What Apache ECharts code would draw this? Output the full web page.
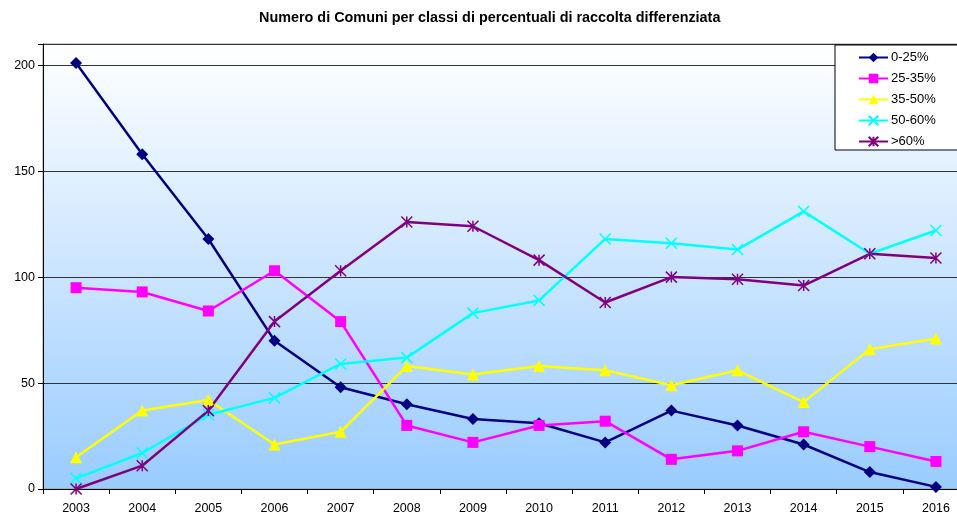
<!DOCTYPE html>
<html>
<head>
<meta charset="utf-8">
<script src="https://cdn.jsdelivr.net/npm/echarts@6/dist/echarts.min.js"></script>
<style>html,body{margin:0;padding:0;background:#fff;overflow:hidden}#c{width:980px;height:515px}</style>
</head>
<body>
<div id="c"></div>
<script>
var years = ['2003','2004','2005','2006','2007','2008','2009','2010','2011','2012','2013','2014','2015','2016'];
var seriesNames = ['0-25%','25-35%','35-50%','50-60%','>60%'];
var s0_25 = [201,158,118,70,48,40,33,31,22,37,30,21,8,1];
var s25_35 = [95,93,84,103,79,30,22,30,32,14,18,27,20,13];
var s35_50 = [15,37,42,21,27,58,54,58,56,49,56,41,66,71];
var s50_60 = [5,17,35,43,59,62,83,89,118,116,113,131,111,122];
var s60 = [0,11,37,79,103,126,124,108,88,100,99,96,111,109];
var yTicks = [0,50,100,150,200];

var FONT = 'Liberation Sans, Arial, sans-serif';
var chart = echarts.init(document.getElementById('c'), null, {renderer:'canvas'});
function mk(name, data, color, symbol, size, extra) {
  var s = {
    name: name, type: 'line', data: data, symbol: symbol, symbolSize: size,
    lineStyle: {color: color, width: 2.5},
    itemStyle: {color: color},
    showSymbol: true, animation: false, z: 3
  };
  if (extra) Object.assign(s.itemStyle, extra);
  return s;
}
var xPath = 'path://M0,0L10,10M10,0L0,10';
var starPath = 'path://M0,0L10,10M10,0L0,10M5,0L5,10';
chart.setOption({
  animation: false,
  title: {
    text: 'Numero di Comuni per classi di percentuali di raccolta differenziata',
    left: 254, top: 6,
    textStyle: {fontFamily: FONT, fontSize: 14.4, fontWeight: 'bold', color: '#000'}
  },
  legend: {
    orient: 'vertical', left: 835, top: 45,
    backgroundColor: '#fff', borderColor: '#000', borderWidth: 1,
    padding: [6, 30, 2, 23], itemGap: 8, itemWidth: 29, itemHeight: 12,
    textStyle: {fontFamily: FONT, fontSize: 13, color: '#000', padding: [0,0,0,-2]},
    data: seriesNames
  },
  grid: {
    left: 43, top: 44, right: 11, bottom: 25, show: true,
    borderColor: '#999', borderWidth: 1,
    backgroundColor: {type:'linear', x:0, y:0, x2:0, y2:1, colorStops:[{offset:0,color:'#ffffff'},{offset:1,color:'#99ccff'}]}
  },
  xAxis: {
    type: 'category', data: years, boundaryGap: true,
    axisLine: {lineStyle: {color: '#000', width: 1}},
    axisTick: {show: true, length: 5, lineStyle: {color: '#000'}},
    axisLabel: {fontFamily: FONT, fontSize: 12.5, color: '#000', margin: 13}
  },
  yAxis: {
    type: 'value', min: 0, max: 210, interval: 50,
    axisLine: {show: true, lineStyle: {color: '#000', width: 1}},
    axisTick: {show: true, length: 5, lineStyle: {color: '#000'}},
    axisLabel: {fontFamily: FONT, fontSize: 12.5, color: '#000', margin: 8,
      formatter: function(v){ return yTicks.indexOf(v) >= 0 ? String(v) : ''; }},
    splitLine: {show: true, lineStyle: {color: '#333', width: 1}}
  },
  series: [
    mk('0-25%', s0_25, '#000080', 'diamond', 12),
    mk('25-35%', s25_35, '#ff00ff', 'rect', 11),
    mk('35-50%', s35_50, '#ffff00', 'triangle', 12),
    mk('50-60%', s50_60, '#00ffff', xPath, 11, {borderColor: '#00ffff', borderWidth: 1.5}),
    mk('>60%', s60, '#800080', starPath, 11, {borderColor: '#800080', borderWidth: 1.5})
  ]
});
</script>
</body>
</html>
